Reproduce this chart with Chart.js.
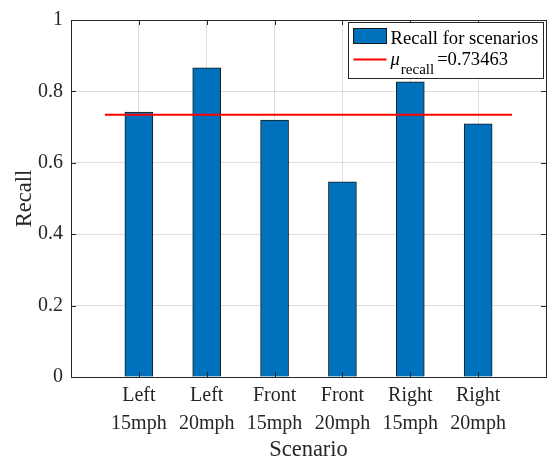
<!DOCTYPE html>
<html>
<head>
<meta charset="utf-8">
<script src="https://cdn.jsdelivr.net/npm/chart.js@4/dist/chart.umd.min.js"></script>
<style>
  html, body { margin: 0; padding: 0; background: #fff; }
  #wrap { width: 551px; height: 463px; }
</style>
</head>
<body>
<div id="wrap"><canvas id="recallChart" width="551" height="463"></canvas></div>
<script>
const scenarios = [
    ['Left', '15mph'], ['Left', '20mph'],
    ['Front', '15mph'], ['Front', '20mph'],
    ['Right', '15mph'], ['Right', '20mph']
];
const recallValues = [0.742, 0.866, 0.720, 0.547, 0.827, 0.709];
const meanRecall = 0.73463;
const yTicks = [0, 0.2, 0.4, 0.6, 0.8, 1];

const AXIS_COLOR = '#262626';
const FONT = 'Liberation Serif, Times New Roman, serif';

// MATLAB-style box with inward ticks
const boxPlugin = {
    id: 'boxPlugin',
    afterDatasetsDraw(chart) {
        const { ctx, chartArea: ca, scales } = chart;
        ctx.save();
        ctx.strokeStyle = AXIS_COLOR;
        ctx.lineWidth = 1;
        ctx.beginPath();
        scales.x.ticks.forEach(t => {
            const px = Math.round(scales.x.getPixelForValue(t.value)) + 0.5;
            ctx.moveTo(px, ca.bottom); ctx.lineTo(px, ca.bottom - 5);
            ctx.moveTo(px, ca.top); ctx.lineTo(px, ca.top + 5);
        });
        yTicks.forEach(v => {
            const py = Math.round(scales.y.getPixelForValue(v)) + 0.5;
            ctx.moveTo(ca.left, py); ctx.lineTo(ca.left + 5, py);
            ctx.moveTo(ca.right, py); ctx.lineTo(ca.right - 5, py);
        });
        ctx.stroke();
        ctx.strokeRect(Math.round(ca.left) + 0.5, Math.round(ca.top) + 0.5,
            Math.round(ca.right - ca.left), Math.round(ca.bottom - ca.top));
        ctx.restore();
    }
};

// legend in the top right corner, with subscript for mu
const legendPlugin = {
    id: 'legendPlugin',
    afterDraw(chart) {
        const { ctx, chartArea: ca } = chart;
        const barSet = chart.data.datasets[1];
        const lineSet = chart.data.datasets[0];
        const w = 195, h = 56;
        const left = Math.round(ca.right - 3 - w) + 0.5;
        const top = Math.round(ca.top + 2) + 0.5;
        ctx.save();
        ctx.fillStyle = '#fff';
        ctx.fillRect(left, top, w, h);
        ctx.strokeStyle = AXIS_COLOR;
        ctx.lineWidth = 1;
        ctx.strokeRect(left, top, w, h);

        // bar entry
        ctx.fillStyle = barSet.backgroundColor;
        ctx.fillRect(left + 5, top + 6, 33, 15);
        ctx.strokeStyle = barSet.borderColor;
        ctx.strokeRect(left + 5, top + 6, 33, 15);
        ctx.fillStyle = '#000';
        ctx.textBaseline = 'alphabetic';
        ctx.font = '18.6px ' + FONT;
        ctx.fillText(barSet.label, left + 42, top + 21);

        // line entry
        ctx.strokeStyle = lineSet.borderColor;
        ctx.lineWidth = 2;
        ctx.beginPath();
        ctx.moveTo(left + 5, top + 37); ctx.lineTo(left + 38, top + 37);
        ctx.stroke();
        let x = left + 42;
        ctx.font = 'italic 18.6px ' + FONT;
        ctx.fillText('\u03bc', x, top + 42);
        x += ctx.measureText('\u03bc').width + 1;
        ctx.font = '15px ' + FONT;
        ctx.fillText('recall', x, top + 51);
        x += ctx.measureText('recall').width + 3;
        ctx.font = '18.6px ' + FONT;
        ctx.fillText('=' + meanRecall, x, top + 42);
        ctx.restore();
    }
};

const ctx = document.getElementById('recallChart').getContext('2d');
const recallChart = new Chart(ctx, {
    data: {
        datasets: [{
            label: 'mean recall',
            type: 'line',
            data: [{ x: 0.5, y: meanRecall }, { x: scenarios.length + 0.5, y: meanRecall }],
            borderColor: '#ff0000',
            borderWidth: 2,
            pointRadius: 0,
            fill: false,
            order: 1
        }, {
            label: 'Recall for scenarios',
            type: 'bar',
            data: recallValues.map((v, i) => ({ x: i + 1, y: v })),
            backgroundColor: '#0072bd',
            borderColor: '#1a1a1a',
            borderWidth: 1,
            barThickness: 28,
            order: 2
        }]
    },
    options: {
        responsive: false,
        animation: false,
        events: [],
        layout: { padding: { top: 14, right: 5, left: 0, bottom: 0 } },
        plugins: {
            legend: { display: false },
            tooltip: { enabled: false }
        },
        scales: {
            x: {
                type: 'linear',
                offset: false,
                min: 0,
                max: scenarios.length + 1,
                afterFit(scale) { scale.height = 86; },
                afterBuildTicks(scale) {
                    scale.ticks = scenarios.map((s, i) => ({ value: i + 1 }));
                },
                ticks: {
                    autoSkip: false,
                    maxRotation: 0,
                    padding: 5,
                    color: AXIS_COLOR,
                    font: { family: FONT, size: 20, lineHeight: 1.385 },
                    callback: (v) => scenarios[v - 1] || ''
                },
                grid: { color: 'rgba(38,38,38,0.15)', drawTicks: false, offset: false },
                border: { display: false },
                title: {
                    display: true,
                    text: 'Scenario',
                    color: AXIS_COLOR,
                    font: { family: FONT, size: 22.5, lineHeight: 1.12 },
                    padding: { top: 0, bottom: 0 }
                }
            },
            y: {
                min: 0,
                max: 1,
                afterFit(scale) { scale.width = 71; },
                afterBuildTicks(scale) {
                    scale.ticks = yTicks.map(v => ({ value: v }));
                },
                ticks: {
                    padding: 8,
                    color: AXIS_COLOR,
                    font: { family: FONT, size: 20 },
                    callback: (v) => String(Math.round(v * 10) / 10)
                },
                grid: { color: 'rgba(38,38,38,0.15)', drawTicks: false },
                border: { display: false },
                title: {
                    display: true,
                    text: 'Recall',
                    color: AXIS_COLOR,
                    font: { family: FONT, size: 22.5, lineHeight: 1.2 },
                    padding: { top: 12, bottom: 0 }
                }
            }
        }
    },
    plugins: [boxPlugin, legendPlugin]
});
</script>
</body>
</html>
